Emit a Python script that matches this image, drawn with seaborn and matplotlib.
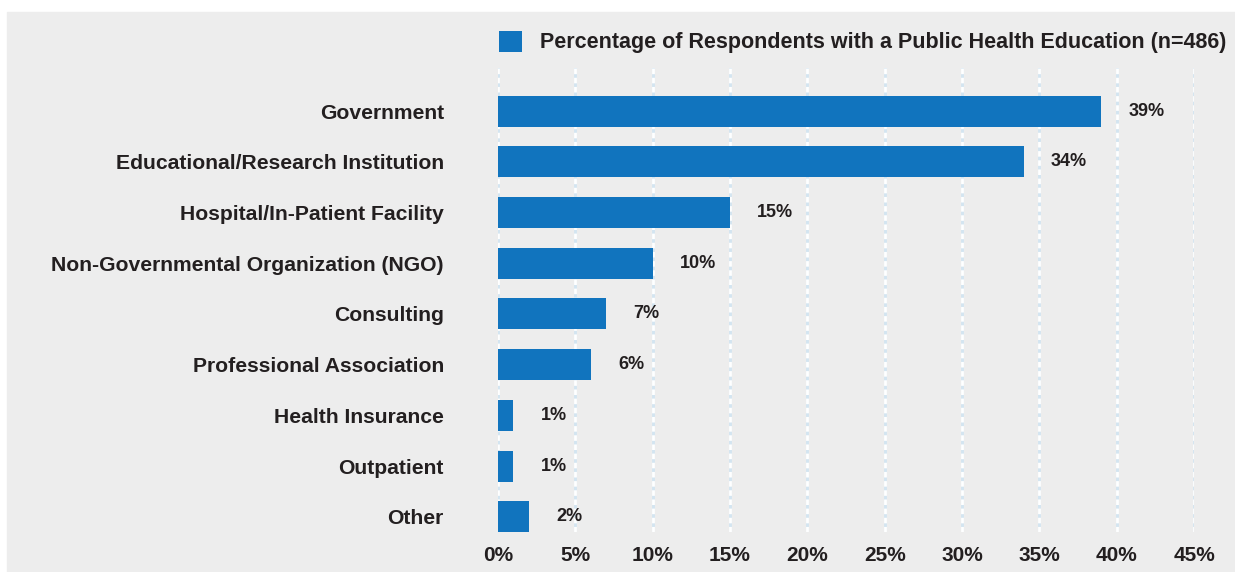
import matplotlib
matplotlib.use("Agg")
import matplotlib.pyplot as plt
from matplotlib.patches import Rectangle, Patch
import seaborn as sns

categories = [
    "Government",
    "Educational/Research Institution",
    "Hospital/In-Patient Facility",
    "Non-Governmental Organization (NGO)",
    "Consulting",
    "Professional Association",
    "Health Insurance",
    "Outpatient",
    "Other",
]
values = [39, 34, 15, 10, 7, 6, 1, 1, 2]
x_ticks = [0, 5, 10, 15, 20, 25, 30, 35, 40, 45]
x_tick_labels = [f"{t}%" for t in x_ticks]
series_label = "Percentage of Respondents with a Public Health Education (n=486)"

BAR = "#1174BE"
PANEL = "#EDEDED"
INK = "#231F20"

sns.set_theme(style="white")
plt.rcParams["font.family"] = ["Liberation Sans", "DejaVu Sans"]

W, H = 1235, 572
fig = plt.figure(figsize=(W / 100, H / 100), dpi=100)
fig.patch.set_facecolor("white")
fig.add_artist(Rectangle((7 / W, -0.05), 1.1, (H - 12) / H + 0.05,
                         transform=fig.transFigure, color=PANEL, zorder=-10))

ax = fig.add_axes([498 / W, 1 - 532 / H, (1194 - 498) / W, (532 - 68) / H])
ax.set_facecolor("none")

# dashed vertical grid: pale blue line with white dashes on top
for t in x_ticks:
    ax.axvline(t, color="#D3E5F1", lw=2.0, zorder=0)
    ax.axvline(t, color="white", lw=2.0, dashes=(2.0, 1.3), zorder=0.5)

sns.barplot(x=values, y=categories, orient="h", color=BAR, width=0.61,
            saturation=1, linewidth=0, ax=ax, zorder=2)

for i, v in enumerate(values):
    ax.annotate(f"{v}%", xy=(v, i), xytext=(19.5, 0), textcoords="offset points",
                ha="left", va="center", fontsize=13, fontweight="bold", color=INK)

ax.set_xlim(0, 45)
ax.set_ylim(8.3, -0.85)
ax.set_xticks(x_ticks)
ax.set_xticklabels(x_tick_labels, fontsize=15, fontweight="bold", color=INK)
ax.set_yticks(range(len(categories)))
ax.set_yticklabels(categories, fontsize=15.2, fontweight="bold", color=INK)
ax.tick_params(axis="x", length=0, pad=10)
ax.tick_params(axis="y", length=0, pad=39)
ax.set_xlabel("")
ax.set_ylabel("")
for s in ax.spines.values():
    s.set_visible(False)

handle = Patch(facecolor=BAR, edgecolor="none")
leg = fig.legend([handle], [series_label], loc="center left",
                 bbox_to_anchor=(499 / W, 1 - 42 / H), bbox_transform=fig.transFigure,
                 frameon=False, borderpad=0, borderaxespad=0,
                 handlelength=1.05, handleheight=1.15, handletextpad=0.85,
                 prop={"size": 15.5, "weight": "bold"}, labelcolor=INK)

fig.savefig("out.png", dpi=100, facecolor="white")
